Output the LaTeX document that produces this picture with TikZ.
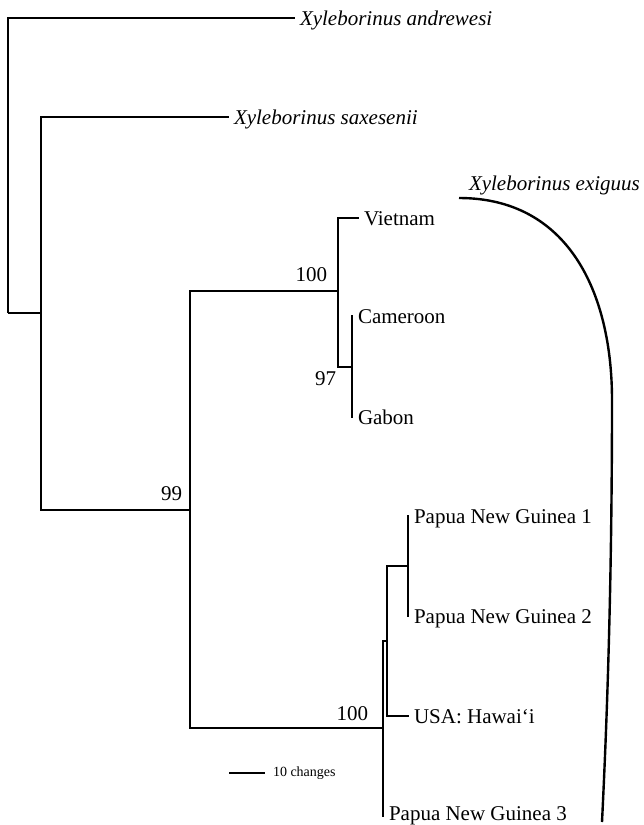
\documentclass[tikz,border=0pt]{standalone}
\usepackage{fontspec}
\setmainfont{Liberation Serif}
\usetikzlibrary{positioning}

\begin{document}
\begin{tikzpicture}[x=1pt,y=-1pt,line width=2pt,
    feuille/.style={anchor=west,inner sep=4pt,text height=14pt,text depth=0pt,font=\fontsize{21}{24}\selectfont},
    espece/.style={feuille,font=\fontsize{21}{24}\selectfont\itshape},
    boot/.style={anchor=base east,inner sep=0pt,font=\fontsize{21}{24}\selectfont}]
    \useasboundingbox (0,0) rectangle (643,825);
    % Noeuds internes de l'arbre
    \coordinate (r) at (8,313);
    \coordinate (n2) at (41,313);
    \coordinate (n3) at (190,510);
    \coordinate (n4) at (338,291);
    \coordinate (n5) at (352,367);
    \coordinate (n6) at (383,728);
    \coordinate (n7) at (387,641);
    \coordinate (n8) at (408,566);

    % Extremites des branches
    \coordinate (t1) at (295,18);
    \coordinate (t2) at (229,117);
    \coordinate (t3) at (359,218);
    \coordinate (t4) at (353,316);
    \coordinate (t5) at (353,417);
    \coordinate (t6) at (409,516);
    \coordinate (t7) at (409,616);
    \coordinate (t8) at (409,716);
    \coordinate (t9) at (384,816);

    % Branches
    \draw (r) |- (t1);
    \draw (r) -- (n2);
    \draw (n2) |- (t2);
    \draw (n2) |- (n3);
    \draw (n3) |- (n4);
    \draw (n3) |- (n6);
    \draw (n4) |- (t3);
    \draw (n4) |- (n5);
    \draw (n5) |- (t4);
    \draw (n5) |- (t5);
    \draw (n6) |- (n7);
    \draw (n6) |- (t9);
    \draw (n7) |- (n8);
    \draw (n7) |- (t8);
    \draw (n8) |- (t6);
    \draw (n8) |- (t7);

    % Noms des taxons
    \node[espece, right=0pt of t1] (andr) {Xyleborinus andrewesi};
    \node[espece, right=0pt of t2] (sax) {Xyleborinus saxesenii};
    \node[feuille, right=0pt of t3] (viet) {Vietnam};
    \node[feuille, right=0pt of t4] (cam) {Cameroon};
    \node[feuille, right=0pt of t5] (gab) {Gabon};
    \node[feuille, right=0pt of t6] (png1) {Papua New Guinea 1};
    \node[feuille, right=0pt of t7] (png2) {Papua New Guinea 2};
    \node[feuille, right=0pt of t8] (usa) {USA: Hawai‘i};
    \node[feuille, right=0pt of t9, yshift=3pt] (png3) {Papua New Guinea 3};

    % Valeurs de bootstrap
    \node[boot] (b1) at (328,281) {100};
    \node[boot] (b2) at (337,385) {97};
    \node[boot] (b3) at (183,500) {99};
    \node[boot] (b4) at (369,720) {100};

    % Accolade pour exiguus
    \node[espece, anchor=west, inner sep=0pt] (exi) at (468,183) {Xyleborinus exiguus};
    \coordinate (c1) at (459,198);
    \coordinate (c2) at (612,400);
    \coordinate (c3) at (602,822);
    \draw[line width=2.4pt] (c1) .. controls (568,198) and (612,292) .. (c2)
        .. controls (612,600) and (606,740) .. (c3);

    % Echelle
    \coordinate (e1) at (229,773);
    \coordinate (e2) at (265,773);
    \draw (e1) -- (e2) node[right, inner sep=7pt, font=\fontsize{14}{16}\selectfont] (ech) {10 changes};
\end{tikzpicture}
\end{document}
